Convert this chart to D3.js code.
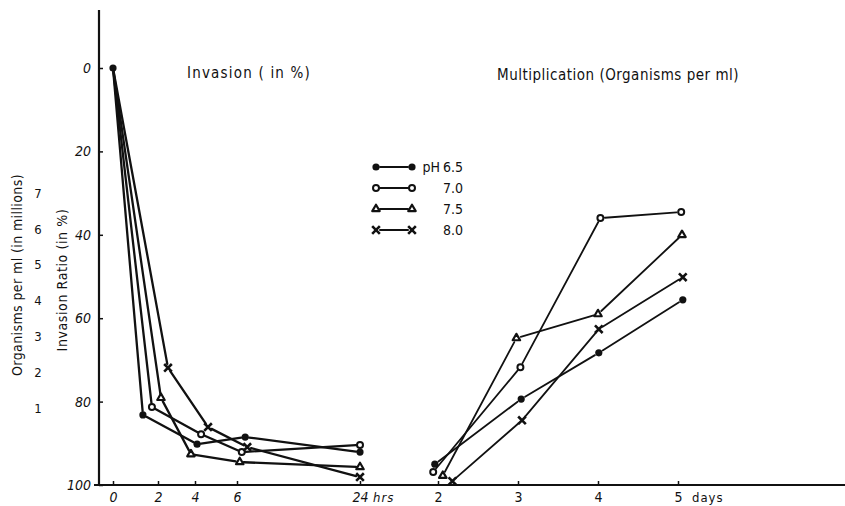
<!DOCTYPE html>
<html lang="en">
<head>
<meta charset="UTF-8" />
<title>Invasion and Multiplication by pH</title>
<script src="https://d3js.org/d3.v7.min.js"></script>
<style>
  body { margin: 0; background: #fff; }
  svg text {
    font-family: "Liberation Sans Narrow", "DejaVu Sans Condensed", "Arial Narrow", sans-serif;
    fill: #111;
  }
</style>
</head>
<body>
<div id="chart"></div>
<script>
  // ----- Data -----
  const phLevels = ["6.5", "7.0", "7.5", "8.0"];
  const markerTypes = ["dot", "circle", "triangle", "cross"];

  // Invasion ratio (%) against hours
  const invHours65 = [0, 1.33, 4.1, 7.2, 24];
  const invPct65   = [0, 83.2, 90.2, 88.5, 92.1];
  const invHours70 = [0, 1.73, 4.29, 6.7, 24];
  const invPct70   = [0, 81.3, 87.8, 92.1, 90.4];
  const invHours75 = [0, 2.16, 3.78, 6.4, 24];
  const invPct75   = [0, 79.1, 92.6, 94.5, 95.7];
  const invHours80 = [0, 2.54, 4.62, 7.5, 24];
  const invPct80   = [0, 71.9, 86.1, 90.9, 98.1];

  // Multiplication (organisms per ml, millions) against days
  const multDays65 = [1.96, 3.04, 4.01, 5.06];
  const multOrg65  = [0.27, 1.25, 2.54, 4.02];
  const multDays70 = [1.94, 3.03, 4.03, 5.04];
  const multOrg70  = [0.17, 2.14, 6.30, 6.47];
  const multDays75 = [2.06, 2.98, 4.0, 5.05];
  const multOrg75  = [0.12, 2.95, 3.62, 5.83];
  const multDays80 = [2.18, 3.05, 4.01, 5.06];
  const multOrg80  = [0.05, 0.84, 3.20, 4.65];

  // Tick values
  const invTicks  = [0, 20, 40, 60, 80, 100];
  const orgTicks  = [1, 2, 3, 4, 5, 6, 7];
  const hourTicks = [0, 2, 4, 6, 24];
  const dayTicks  = [2, 3, 4, 5];

  const invSeries = [
    d3.zip(invHours65, invPct65), d3.zip(invHours70, invPct70),
    d3.zip(invHours75, invPct75), d3.zip(invHours80, invPct80)
  ];
  const multSeries = [
    d3.zip(multDays65, multOrg65), d3.zip(multDays70, multOrg70),
    d3.zip(multDays75, multOrg75), d3.zip(multDays80, multOrg80)
  ];

  // ----- SVG -----
  const width = 845, height = 506;
  const svg = d3.select('#chart').append('svg')
    .attr('width', width)
    .attr('height', height);

  // ----- Scales -----
  const yInv = d3.scaleLinear().domain([0, 100]).range([68, 485]);
  const yOrg = d3.scaleLinear().domain([0, 1, 7]).range([485, 408, 193]);
  const xHr  = d3.scaleLinear().domain([0, 2, 4, 6, 24]).range([113, 158, 195, 237, 360]);
  const xDay = d3.scaleLinear().domain([2, 5]).range([438, 678]);

  const axisX = 99, baseY = 485;
  const fmt = d3.format('d');

  // ----- Axes -----
  svg.append('line')
    .attr('x1', axisX).attr('x2', axisX)
    .attr('y1', 10).attr('y2', baseY + 1)
    .attr('stroke', '#111').attr('stroke-width', 2.2);
  svg.append('line')
    .attr('x1', 94).attr('x2', width)
    .attr('y1', baseY).attr('y2', baseY)
    .attr('stroke', '#111').attr('stroke-width', 2.2);

  const yAxis = svg.append('g')
    .attr('transform', `translate(${axisX},0)`)
    .call(d3.axisLeft(yInv).tickValues(invTicks).tickFormat(fmt)
      .tickSize(-4).tickSizeOuter(0).tickPadding(8));
  const orgAxis = svg.append('g')
    .attr('transform', 'translate(42,0)')
    .call(d3.axisLeft(yOrg).tickValues(orgTicks).tickFormat(fmt)
      .tickSize(0).tickPadding(0));
  const hrAxis = svg.append('g')
    .attr('transform', `translate(0,${baseY})`)
    .call(d3.axisBottom(xHr).tickValues(hourTicks).tickFormat(fmt)
      .tickSize(-4).tickSizeOuter(0).tickPadding(7));
  const dayAxis = svg.append('g')
    .attr('transform', `translate(0,${baseY})`)
    .call(d3.axisBottom(xDay).tickValues(dayTicks).tickFormat(fmt)
      .tickSize(-4).tickSizeOuter(0).tickPadding(7));

  [yAxis, orgAxis, hrAxis, dayAxis].forEach(a => {
    a.select('.domain').remove();
    a.selectAll('line').attr('stroke', '#111').attr('stroke-width', 1.5);
    a.selectAll('text').attr('font-size', 14);
  });
  yAxis.selectAll('text').attr('font-style', 'italic');
  hrAxis.selectAll('text').attr('font-style', 'italic');
  orgAxis.selectAll('text').attr('font-size', 13).attr('text-anchor', 'middle').attr('x', -4);

  svg.append('text')
    .attr('x', xHr(24) + 13).attr('y', baseY + 17)
    .attr('font-size', 13).attr('font-style', 'italic').attr('letter-spacing', 1)
    .text('hrs');
  svg.append('text')
    .attr('x', xDay(5) + 14).attr('y', baseY + 17)
    .attr('font-size', 13).attr('letter-spacing', 1)
    .text('days');

  // Axis titles (rotated)
  svg.append('text')
    .attr('transform', 'translate(22,275) rotate(-90)')
    .attr('text-anchor', 'middle')
    .attr('font-size', 14).attr('letter-spacing', 0.4)
    .text('Organisms per ml (in millions)');
  svg.append('text')
    .attr('transform', 'translate(67,280) rotate(-90)')
    .attr('text-anchor', 'middle')
    .attr('font-size', 14).attr('letter-spacing', 0.6)
    .text('Invasion Ratio (in %)');

  // Panel titles
  svg.append('text')
    .attr('x', 187).attr('y', 78)
    .attr('font-size', 15).attr('letter-spacing', 1.2)
    .text('Invasion ( in %)');
  svg.append('text')
    .attr('x', 497).attr('y', 80)
    .attr('font-size', 15).attr('letter-spacing', 0.5)
    .text('Multiplication (Organisms per ml)');

  // ----- Markers -----
  function drawMarker(g, type, x, y) {
    if (type === 'dot') {
      g.append('circle').attr('cx', x).attr('cy', y).attr('r', 3.6).attr('fill', '#111');
    } else if (type === 'circle') {
      g.append('circle').attr('cx', x).attr('cy', y).attr('r', 3)
        .attr('fill', '#fff').attr('stroke', '#111').attr('stroke-width', 2);
    } else if (type === 'triangle') {
      g.append('path').attr('d', d3.symbol(d3.symbolTriangle).size(24)())
        .attr('transform', `translate(${x},${y})`)
        .attr('fill', '#fff').attr('stroke', '#111').attr('stroke-width', 2.2)
        .attr('stroke-linejoin', 'round');
    } else {
      g.append('path').attr('d', d3.symbol(d3.symbolX).size(40)())
        .attr('transform', `translate(${x},${y})`)
        .attr('fill', 'none').attr('stroke', '#111').attr('stroke-width', 2.6);
    }
  }

  // segment with small gaps at both ends, like the hand-drawn original
  function drawSegments(g, pts, gap, sw) {
    for (let i = 0; i < pts.length - 1; i++) {
      const [x1, y1] = pts[i], [x2, y2] = pts[i + 1];
      const len = Math.hypot(x2 - x1, y2 - y1);
      const ux = (x2 - x1) / len, uy = (y2 - y1) / len;
      g.append('line')
        .attr('x1', x1 + ux * gap).attr('y1', y1 + uy * gap)
        .attr('x2', x2 - ux * gap).attr('y2', y2 - uy * gap)
        .attr('stroke', '#111').attr('stroke-width', sw)
        .attr('stroke-linecap', 'round');
    }
  }

  const plot = svg.append('g');

  invSeries.forEach((s, i) => {
    const pts = s.map(d => [xHr(d[0]), yInv(d[1])]);
    drawSegments(plot, pts, 4, 2.3);
    pts.forEach((p, j) => {
      if (j === 0 && i > 0) return;   // shared starting point
      drawMarker(plot, markerTypes[i], p[0], p[1]);
    });
  });

  multSeries.forEach((s, i) => {
    const pts = s.map(d => [xDay(d[0]), yOrg(d[1])]);
    drawSegments(plot, pts, 4.5, 1.8);
    pts.forEach(p => drawMarker(plot, markerTypes[i], p[0], p[1]));
  });

  // ----- Legend -----
  const legY = d3.scalePoint().domain(phLevels).range([167, 230]);
  const legend = svg.append('g');
  phLevels.forEach((ph, i) => {
    const y = legY(ph);
    drawSegments(legend, [[376, y], [412, y]], 4, 2);
    drawMarker(legend, markerTypes[i], 376, y);
    drawMarker(legend, markerTypes[i], 412, y);
    legend.append('text')
      .attr('x', 443).attr('y', y + 5)
      .attr('font-size', 14)
      .text(ph);
  });
  legend.append('text')
    .attr('x', 440).attr('y', legY('6.5') + 5)
    .attr('text-anchor', 'end')
    .attr('font-size', 14)
    .text('pH');
</script>
</body>
</html>
